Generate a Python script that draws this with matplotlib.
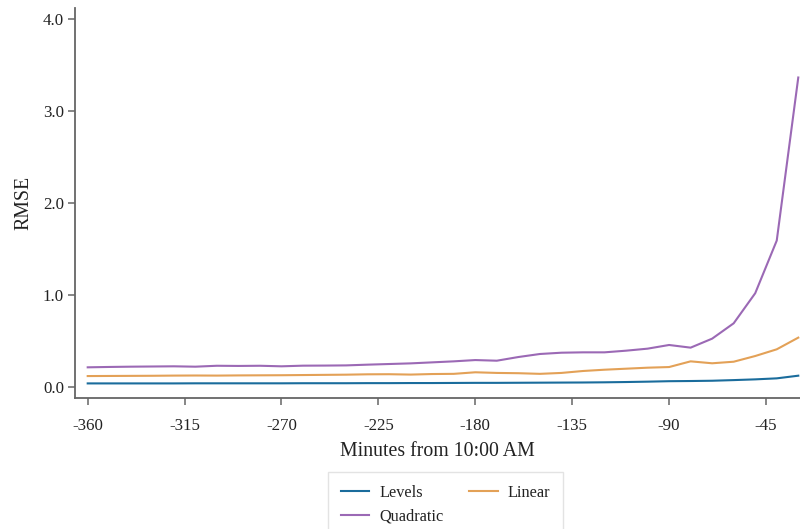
import matplotlib
matplotlib.use("Agg")
import matplotlib.pyplot as plt
import numpy as np

plt.rcParams['font.family'] = ['Liberation Serif', 'DejaVu Serif']

minutes = list(range(-360, -29, 10))
levels = [0.036, 0.036, 0.036, 0.036, 0.036, 0.037, 0.037, 0.037, 0.037, 0.037,
          0.038, 0.038, 0.038, 0.039, 0.039, 0.040, 0.040, 0.041, 0.042, 0.042,
          0.043, 0.044, 0.045, 0.046, 0.048, 0.051, 0.055, 0.060, 0.062, 0.065,
          0.072, 0.080, 0.091, 0.120]
linear = [0.116, 0.117, 0.118, 0.119, 0.121, 0.122, 0.121, 0.123, 0.124, 0.125,
          0.127, 0.129, 0.131, 0.135, 0.136, 0.132, 0.138, 0.140, 0.157, 0.150,
          0.147, 0.140, 0.150, 0.171, 0.185, 0.196, 0.207, 0.214, 0.276, 0.255,
          0.272, 0.334, 0.407, 0.534]
quadratic = [0.211, 0.215, 0.218, 0.220, 0.222, 0.218, 0.228, 0.226, 0.228, 0.222,
             0.229, 0.230, 0.232, 0.240, 0.247, 0.254, 0.265, 0.276, 0.290, 0.283,
             0.323, 0.356, 0.370, 0.374, 0.374, 0.392, 0.414, 0.454, 0.425, 0.523,
             0.690, 1.017, 1.590, 3.364]
xticks = [-360, -315, -270, -225, -180, -135, -90, -45]
yticks = [0.0, 1.0, 2.0, 3.0, 4.0]

c_levels = '#1a6c9c'
c_linear = '#e3a157'
c_quad = '#9b69b5'

fig = plt.figure(figsize=(8.0, 5.29), dpi=100)
ax = fig.add_axes([75/800, 1 - 398.3/529, 1 - 75/800, (398.3 - 8)/529])

l1, = ax.plot(minutes, levels, color=c_levels, lw=1.5, label='Levels')
l2, = ax.plot(minutes, linear, color=c_linear, lw=1.5, label='Linear')
l3, = ax.plot(minutes, quadratic, color=c_quad, lw=1.5, label='Quadratic')

ax.set_xlim(-365.9, -29.2)
ax.set_ylim(-0.126, 4.12)
ax.set_xticks(xticks)
ax.set_xticklabels([str(v) for v in xticks])
ax.set_yticks(yticks)
ax.set_yticklabels([f'{v:.1f}' for v in yticks])

for s in ['top', 'right']:
    ax.spines[s].set_visible(False)
for s in ['left', 'bottom']:
    ax.spines[s].set_color('#666666')
    ax.spines[s].set_linewidth(1.3)
ax.tick_params(axis='both', direction='out', length=5, width=1.1, color='#666666',
               labelsize=12.2, labelcolor='#222222')
ax.tick_params(axis='x', pad=9)
ax.tick_params(axis='y', pad=3)

ax.set_xlabel('Minutes from 10:00 AM', fontsize=14.3, color='#222222', labelpad=6)
ax.set_ylabel('RMSE', fontsize=14.3, color='#222222', labelpad=7)

leg = fig.legend([l1, l3, l2], ['Levels', 'Quadratic', 'Linear'], ncol=2,
                 loc='upper left', bbox_to_anchor=(328/800, 1 - 472/529),
                 borderaxespad=0.0,
                 fontsize=11.7, frameon=True, fancybox=False, edgecolor='#dddddd',
                 handlelength=1.75, columnspacing=1.6, borderpad=0.8,
                 labelspacing=0.45, handletextpad=0.6)
leg.get_frame().set_linewidth(1.0)
for t in leg.get_texts():
    t.set_color('#222222')

fig.savefig('out.png', dpi=100)
